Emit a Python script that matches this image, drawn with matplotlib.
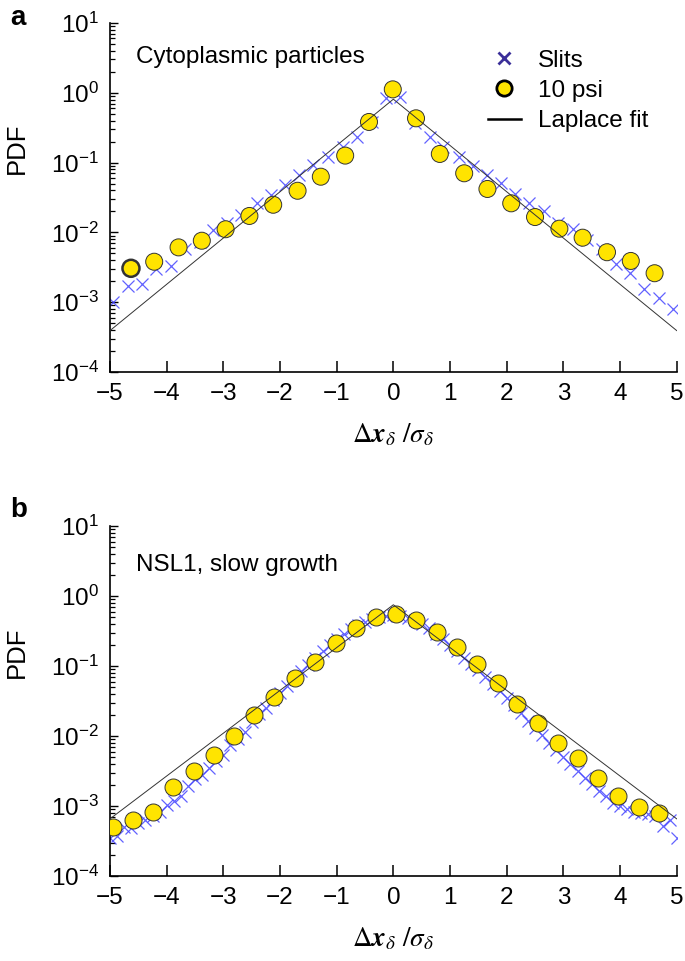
import numpy as np
import matplotlib
matplotlib.use("Agg")
import matplotlib.pyplot as plt
from matplotlib.lines import Line2D
from matplotlib.ticker import LogLocator, NullFormatter, LogFormatterMathtext

plt.rcParams["font.family"] = ["Liberation Sans", "DejaVu Sans"]
plt.rcParams["mathtext.fontset"] = "stix"

# ---------------------------------------------------------------------------
# Data
# ---------------------------------------------------------------------------

# Panel a: cytoplasmic particles
a_psi_x = [-4.63, -4.22, -3.79, -3.38, -2.96, -2.54, -2.12, -1.69, -1.28, -0.85, -0.43, -0.01,
           0.40, 0.82, 1.25, 1.66, 2.08, 2.50, 2.93, 3.34, 3.77, 4.19, 4.61]
a_psi_y = [3.06e-3, 3.8e-3, 6.1e-3, 7.6e-3, 0.0111, 0.0172, 0.0249, 0.0395, 0.0628, 0.126, 0.382, 1.12,
           0.431, 0.133, 0.0703, 0.0419, 0.0261, 0.0166, 0.0113, 8.4e-3, 5.2e-3, 3.9e-3, 2.6e-3]

a_slit_x = [-4.95, -4.68, -4.43, -4.18, -3.93, -3.68, -3.42, -3.18, -2.93, -2.68,
            -2.41, -2.16, -1.91, -1.66, -1.41, -1.15, -0.89, -0.64, -0.38, -0.13,
            0.12, 0.38, 0.64, 0.88, 1.15, 1.40, 1.65, 1.90, 2.15, 2.40,
            2.66, 2.91, 3.17, 3.42, 3.68, 3.93, 4.18, 4.42, 4.68, 4.94]
a_slit_y = [1.0e-3, 1.7e-3, 1.8e-3, 2.96e-3, 3.3e-3, 5.7e-3, 7.3e-3, 0.0108, 0.0138, 0.0177,
            0.0261, 0.0344, 0.0478, 0.066, 0.092, 0.122, 0.169, 0.23, 0.385, 0.83,
            0.86, 0.366, 0.23, 0.169, 0.122, 0.089, 0.066, 0.0505, 0.0355, 0.0267,
            0.0205, 0.0138, 0.0111, 7.8e-3, 5.7e-3, 3.5e-3, 2.65e-3, 1.56e-3, 1.16e-3, 7.9e-4]

a_fit_amp = 0.81
a_fit_scale = 0.655

# Panel b: NSL1, slow growth
b_psi_x = [-4.94, -4.60, -4.25, -3.88, -3.52, -3.16, -2.81, -2.46, -2.11, -1.74, -1.38, -1.01, -0.66, -0.31,
           0.05, 0.40, 0.77, 1.13, 1.48, 1.84, 2.19, 2.56, 2.91, 3.26, 3.62, 3.97, 4.34, 4.69]
b_psi_y = [4.96e-4, 6.3e-4, 8.1e-4, 1.85e-3, 3.16e-3, 5.4e-3, 0.0101, 0.020, 0.0357, 0.0667, 0.115, 0.211, 0.346, 0.497,
           0.553, 0.454, 0.303, 0.189, 0.106, 0.0566, 0.0286, 0.0152, 8.0e-3, 4.8e-3, 2.54e-3, 1.4e-3, 9.6e-4, 8.0e-4]

b_slit_x = [-5.0, -4.875, -4.75, -4.625, -4.5, -4.375, -4.25, -4.125, -4.0, -3.875,
            -3.75, -3.625, -3.5, -3.375, -3.25, -3.125, -3.0, -2.875, -2.75, -2.625,
            -2.5, -2.375, -2.25, -2.125, -2.0, -1.875, -1.75, -1.625, -1.5, -1.375,
            -1.25, -1.125, -1.0, -0.875, -0.75, -0.625, -0.5, -0.375, -0.25, -0.125,
            0.0, 0.125, 0.25, 0.375, 0.5, 0.625, 0.75, 0.875, 1.0, 1.125,
            1.25, 1.375, 1.5, 1.625, 1.75, 1.875, 2.0, 2.125, 2.25, 2.375,
            2.5, 2.625, 2.75, 2.875, 3.0, 3.125, 3.25, 3.375, 3.5, 3.625,
            3.75, 3.875, 4.0, 4.125, 4.25, 4.375, 4.5, 4.625, 4.75, 4.875, 5.0]
b_slit_y = [3.5e-4, 3.7e-4, 5.0e-4, 4.8e-4, 5.8e-4, 6.3e-4, 7.2e-4, 8.3e-4, 1.02e-3, 1.17e-3,
            1.41e-3, 1.9e-3, 2.4e-3, 2.8e-3, 3.5e-3, 4.4e-3, 5.4e-3, 7.4e-3, 9.1e-3, 0.0115,
            0.0158, 0.0204, 0.0251, 0.0324, 0.0417, 0.0525, 0.0676, 0.085, 0.105, 0.132,
            0.162, 0.20, 0.24, 0.29, 0.34, 0.39, 0.43, 0.47, 0.50, 0.52,
            0.54, 0.52, 0.49, 0.45, 0.40, 0.347, 0.288, 0.24, 0.20, 0.162,
            0.132, 0.107, 0.087, 0.069, 0.055, 0.0437, 0.0347, 0.0275, 0.0214, 0.0166,
            0.0129, 0.0102, 7.9e-3, 6.3e-3, 5.0e-3, 4.0e-3, 3.2e-3, 2.5e-3, 2.04e-3, 1.66e-3,
            1.38e-3, 1.12e-3, 1.0e-3, 9.1e-4, 8.3e-4, 7.9e-4, 7.8e-4, 7.2e-4, 5.2e-4, 6.3e-4, 3.5e-4]

b_fit_amp = 0.75
b_fit_scale = 0.71

panel_titles = ["Cytoplasmic particles", "NSL1, slow growth"]
panel_letters = ["a", "b"]
xticks = [-5, -4, -3, -2, -1, 0, 1, 2, 3, 4, 5]

YELLOW = "#ffe400"
BLUE = "#4646ff"
FS = 17.5


def laplace(x, amp, scale):
    return amp * np.exp(-np.abs(x) / scale)


def draw_panel(ax, slit_x, slit_y, psi_x, psi_y, amp, scale, title, title_y, psi_edge_widths):
    xx = np.linspace(-5, 5, 401)
    ax.plot(slit_x, slit_y, linestyle="none", marker="x", ms=8, mew=0.9,
            color=BLUE, alpha=0.85, zorder=2)
    ax.scatter(psi_x, psi_y, s=150, c=YELLOW, edgecolors="#333333",
               linewidths=psi_edge_widths, zorder=3)
    ax.plot(xx, laplace(xx, amp, scale), color="#333333", lw=0.7, zorder=4)

    ax.set_yscale("log")
    ax.set_ylim(1e-4, 10)
    ax.set_xlim(-5, 5)
    ax.set_xticks(xticks)
    ax.yaxis.set_major_locator(LogLocator(base=10, numticks=10))
    ax.yaxis.set_major_formatter(LogFormatterMathtext())
    ax.yaxis.set_minor_locator(LogLocator(base=10, subs=np.arange(2, 10), numticks=20))
    ax.yaxis.set_minor_formatter(NullFormatter())

    for side in ["top", "right"]:
        ax.spines[side].set_visible(False)
    for side in ["left", "bottom"]:
        ax.spines[side].set_linewidth(1.2)

    ax.tick_params(axis="x", direction="in", length=8, width=1.1, labelsize=FS, pad=8)
    ax.tick_params(axis="y", which="major", direction="in", length=6, width=1.0, labelsize=FS, pad=8)
    ax.tick_params(axis="y", which="minor", direction="in", length=3.5, width=0.9)

    ax.set_ylabel("PDF", fontsize=FS + 1)
    ax.yaxis.set_label_coords(-0.143, 0.64)
    ax.set_xlabel(r"$\Delta\boldsymbol{x}_{\delta}\ /\sigma_{\delta}$", fontsize=FS + 2, labelpad=12)

    ax.text(0.045, title_y, title, transform=ax.transAxes, fontsize=FS,
            ha="left", va="center")


fig = plt.figure(figsize=(6.85, 9.61), dpi=100)
ax_a = fig.add_axes([110 / 685, 1 - 372 / 961, 566.7 / 685, 349 / 961])
ax_b = fig.add_axes([110 / 685, 1 - 876 / 961, 566.7 / 685, 350 / 961])

a_edges = [1.8] + [0.7] * (len(a_psi_x) - 1)
draw_panel(ax_a, a_slit_x, a_slit_y, a_psi_x, a_psi_y, a_fit_amp, a_fit_scale,
           panel_titles[0], 0.903, a_edges)
draw_panel(ax_b, b_slit_x, b_slit_y, b_psi_x, b_psi_y, b_fit_amp, b_fit_scale,
           panel_titles[1], 0.889, 0.7)

# legend (proxy handles only)
handles = [
    Line2D([], [], linestyle="none", marker="x", ms=9, mew=2.0, color="#3b2f99"),
    Line2D([], [], linestyle="none", marker="o", ms=11, mfc=YELLOW, mec="black", mew=2.0),
    Line2D([], [], color="black", lw=1.8),
]
ax_a.legend(handles, ["Slits", "10 psi", "Laplace fit"], loc="upper left",
            bbox_to_anchor=(0.667, 0.924), frameon=False, fontsize=FS,
            handlelength=1.35, handletextpad=0.7, labelspacing=0.34,
            borderpad=0, borderaxespad=0)

for letter, ypx in zip(panel_letters, [18, 510]):
    fig.text(10 / 685, 1 - ypx / 961, letter, fontsize=20, fontweight="bold",
             ha="left", va="center")

fig.savefig("out.png", dpi=100)
